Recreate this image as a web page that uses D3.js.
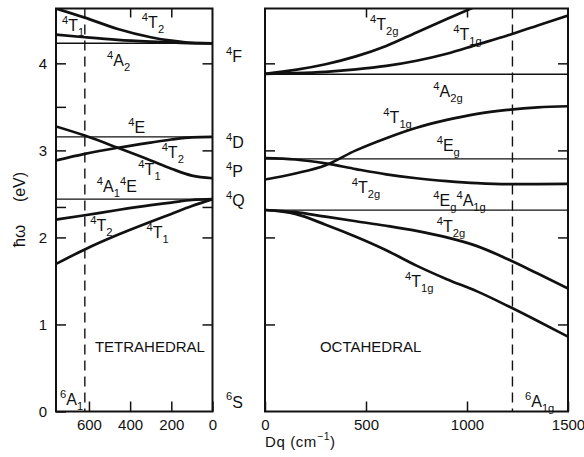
<!DOCTYPE html>
<html>
<head>
<meta charset="utf-8">
<script src="https://cdn.jsdelivr.net/npm/d3@7"></script>
<style>
  html, body { margin: 0; padding: 0; background: #fff; }
  svg { display: block; font-family: "Liberation Sans", Arial, Helvetica, sans-serif; }
</style>
</head>
<body>
<svg id="chart" width="584" height="457"></svg>
<script>
// ---- Tetrahedral site: quartet levels vs crystal field Dq (axis runs 760 -> 0 cm-1)
const tetraDq   = [760, 620, 460, 300, 200, 100, 0];
const tetra4T1F = [4.63, 4.525, 4.395, 4.30, 4.26, 4.235, 4.23];
const tetra4T2F = [4.33, 4.30, 4.27, 4.25, 4.24, 4.232, 4.23];
const tetra4T1P = [3.275, 3.17, 3.03, 2.885, 2.79, 2.71, 2.68];
const tetra4T2D = [2.885, 2.96, 3.03, 3.09, 3.125, 3.15, 3.155];
const tetra4T2G = [2.205, 2.255, 2.315, 2.37, 2.40, 2.43, 2.44];
const tetra4T1G = [1.695, 1.862, 2.03, 2.18, 2.27, 2.36, 2.44];
// field-independent levels: 4A2, 4E(D), 4A1 4E(G)
const tetraFlat = [4.23, 3.155, 2.44];
const tetraMarkDq = 620;

// ---- Octahedral site: quartet levels vs Dq (0 -> 1500 cm-1)
const octaDq     = [0, 150, 300, 450, 600, 750, 900, 1050, 1200, 1350, 1500];
const octa4T2gF  = [3.88, 3.925, 3.99, 4.08, 4.20, 4.355, 4.51, 4.66, null, null, null];
const octa4T1gF  = [3.88, 3.888, 3.903, 3.93, 3.97, 4.03, 4.11, 4.215, 4.32, 4.435, 4.55];
const octa4T1gP  = [2.665, 2.735, 2.83, 3.00, 3.14, 3.26, 3.35, 3.42, 3.465, 3.495, 3.507];
const octa4T2gD  = [2.91, 2.895, 2.85, 2.785, 2.725, 2.68, 2.647, 2.623, 2.612, 2.612, 2.615];
const octa4T2gG  = [2.315, 2.29, 2.238, 2.186, 2.134, 2.075, 2.0, 1.90, 1.752, 1.585, 1.414];
const octa4T1gG  = [2.315, 2.27, 2.146, 2.008, 1.853, 1.676, 1.52, 1.38, 1.215, 1.04, 0.86];
// field-independent levels: 4A2g, 4Eg(D), 4Eg 4A1g(G)
const octaFlat = [3.875, 2.902, 2.313];
const octaMarkDq = 1225;

// ---- Axis ticks
const energyTicks = [0, 1, 2, 3, 4];
const tetraExtraTicks = [3.5, 2.35];
const tetraDqTicks = [600, 400, 200, 0];
const tetraTopTicks = [400, 200];
const octaDqTicks = [0, 500, 1000, 1500];
const octaTopTicks = [500, 1000];

// free-ion terms listed between the panels
const ionTerms = [
  { e: 4.015, parts: [["4", "sup"], ["F", "n"]] },
  { e: 3.025, parts: [["4", "sup"], ["D", "n"]] },
  { e: 2.694, parts: [["4", "sup"], ["P", "n"]] },
  { e: 2.36,  parts: [["4", "sup"], ["Q", "n"]] },
  { e: 0.045, parts: [["6", "sup"], ["S", "n"]] }
];

// state labels, placed in data coordinates of their panel
const tetraLabels = [
  { dq: 731, e: 4.372, parts: [["4", "sup"], ["T", "n"], ["1", "sub"]] },
  { dq: 343, e: 4.406, parts: [["4", "sup"], ["T", "n"], ["2", "sub"]] },
  { dq: 512, e: 3.97,  parts: [["4", "sup"], ["A", "n"], ["2", "sub"]] },
  { dq: 409, e: 3.20,  parts: [["4", "sup"], ["E", "n"]] },
  { dq: 247, e: 2.912, parts: [["4", "sup"], ["T", "n"], ["2", "sub"]] },
  { dq: 360, e: 2.717, parts: [["4", "sup"], ["T", "n"], ["1", "sub"]] },
  { dq: 562, e: 2.522, parts: [["4", "sup"], ["A", "n"], ["1", "sub"], ["4", "sup"], ["E", "n"]] },
  { dq: 594, e: 2.074, parts: [["4", "sup"], ["T", "n"], ["2", "sub"]] },
  { dq: 320, e: 1.993, parts: [["4", "sup"], ["T", "n"], ["1", "sub"]] },
  { dq: 740, e: 0.075, parts: [["6", "sup"], ["A", "n"], ["1", "sub"]] }
];
const octaLabels = [
  { dq: 520,  e: 4.383, parts: [["4", "sup"], ["T", "n"], ["2g", "sub"]] },
  { dq: 932,  e: 4.268, parts: [["4", "sup"], ["T", "n"], ["1g", "sub"]] },
  { dq: 833,  e: 3.613, parts: [["4", "sup"], ["A", "n"], ["2g", "sub"]] },
  { dq: 586,  e: 3.315, parts: [["4", "sup"], ["T", "n"], ["1g", "sub"]] },
  { dq: 850,  e: 2.993, parts: [["4", "sup"], ["E", "n"], ["g", "sub"]] },
  { dq: 429,  e: 2.51,  parts: [["4", "sup"], ["T", "n"], ["2g", "sub"]] },
  { dq: 833,  e: 2.361, parts: [["4", "sup"], ["E", "n"], ["g", "sub"], ["4", "sup"], ["A", "n"], ["1g", "sub"]] },
  { dq: 850,  e: 2.062, parts: [["4", "sup"], ["T", "n"], ["2g", "sub"]] },
  { dq: 693,  e: 1.43,  parts: [["4", "sup"], ["T", "n"], ["1g", "sub"]] },
  { dq: 1287, e: 0.055, parts: [["6", "sup"], ["A", "n"], ["1g", "sub"]] }
];

// ---- Layout
const svg = d3.select("#chart");
const yTop = 8.5, yBot = 411.5;
const y  = d3.scaleLinear().domain([0, 4.63]).range([yBot, yTop]);
const xT = d3.scaleLinear().domain([760, 0]).range([56, 212.5]);
const xO = d3.scaleLinear().domain([0, 1500]).range([265, 568]);

const INK = "#111";

const defs = svg.append("defs");
function clip(id, xs) {
  defs.append("clipPath").attr("id", id).append("rect")
    .attr("x", xs.range()[0]).attr("y", yTop)
    .attr("width", xs.range()[1] - xs.range()[0]).attr("height", yBot - yTop);
}
clip("clipT", xT);
clip("clipO", xO);

// rich label: superscript / normal / subscript runs
function rich(parent, x, yy, parts, size) {
  const t = parent.append("text").attr("x", x).attr("y", yy)
    .attr("font-size", size).attr("fill", INK);
  let cur = 0;
  for (const [s, k] of parts) {
    const off = k === "sup" ? -0.45 * size : k === "sub" ? 0.3 * size : 0;
    t.append("tspan")
      .attr("dy", off - cur)
      .attr("font-size", k === "n" ? size : size * 0.7)
      .text(s);
    cur = off;
  }
  return t;
}

function panel(xs, clipId, dqs, curves, flats, markDq, labels) {
  const g = svg.append("g");
  const plot = g.append("g").attr("clip-path", `url(#${clipId})`);

  // field-independent levels
  plot.selectAll("line.flat").data(flats).join("line")
    .attr("x1", xs.range()[0]).attr("x2", xs.range()[1])
    .attr("y1", d => y(d)).attr("y2", d => y(d))
    .attr("stroke", INK).attr("stroke-width", 1.4);

  // marker for the compound's Dq
  plot.append("line")
    .attr("x1", xs(markDq)).attr("x2", xs(markDq))
    .attr("y1", yTop).attr("y2", yBot)
    .attr("stroke", INK).attr("stroke-width", 1.4)
    .attr("stroke-dasharray", "10,6");

  const line = d3.line()
    .defined(d => d[1] != null)
    .x(d => xs(d[0])).y(d => y(d[1]))
    .curve(d3.curveMonotoneX);

  curves.forEach(vals => {
    const pts = dqs.map((q, i) => [q, vals[i]]);
    plot.append("path").attr("d", line(pts))
      .attr("fill", "none").attr("stroke", INK)
      .attr("stroke-width", 2.7).attr("stroke-linejoin", "round");
  });

  // frame
  g.append("rect")
    .attr("x", xs.range()[0]).attr("y", yTop)
    .attr("width", xs.range()[1] - xs.range()[0]).attr("height", yBot - yTop)
    .attr("fill", "none").attr("stroke", INK).attr("stroke-width", 2);

  labels.forEach(l => rich(g, xs(l.dq), y(l.e), l.parts, 16));
  return g;
}

function styleAxis(sel, size) {
  sel.select(".domain").remove();
  sel.selectAll(".tick line").attr("stroke", INK).attr("stroke-width", 1.5);
  sel.selectAll(".tick text").attr("fill", INK)
    .attr("font-size", size || 14)
    .attr("font-family", "\"Liberation Sans\", Arial, Helvetica, sans-serif");
  sel.attr("font-family", null).attr("font-size", null);
}

// ---- Tetrahedral panel
panel(xT, "clipT", tetraDq,
  [tetra4T1F, tetra4T2F, tetra4T1P, tetra4T2D, tetra4T2G, tetra4T1G],
  tetraFlat, tetraMarkDq, tetraLabels);

svg.append("g").attr("transform", `translate(${xT.range()[0]},0)`)
  .call(d3.axisLeft(y).tickValues(energyTicks).tickSize(-10).tickPadding(9).tickFormat(d3.format("d")))
  .call(styleAxis, 15);
svg.append("g").attr("transform", `translate(${xT.range()[0]},0)`)
  .call(d3.axisLeft(y).tickValues(tetraExtraTicks).tickSize(-10).tickFormat(""))
  .call(styleAxis);
svg.append("g").attr("transform", `translate(${xT.range()[1]},0)`)
  .call(d3.axisRight(y).tickValues([1, 2, 3, 4].concat([2.35])).tickSize(-10).tickFormat(""))
  .call(styleAxis);
svg.append("g").attr("transform", `translate(0,${yBot})`)
  .call(d3.axisBottom(xT).tickValues(tetraDqTicks).tickSize(-10).tickPadding(8).tickFormat(d3.format("d")))
  .call(styleAxis, 15);
svg.append("g").attr("transform", `translate(0,${yTop})`)
  .call(d3.axisTop(xT).tickValues(tetraTopTicks).tickSize(-9).tickFormat(""))
  .call(styleAxis);

// ---- Octahedral panel
panel(xO, "clipO", octaDq,
  [octa4T2gF, octa4T1gF, octa4T1gP, octa4T2gD, octa4T2gG, octa4T1gG],
  octaFlat, octaMarkDq, octaLabels);

svg.append("g").attr("transform", `translate(${xO.range()[0]},0)`)
  .call(d3.axisLeft(y).tickValues([1, 2, 3, 4]).tickSize(-10).tickFormat(""))
  .call(styleAxis);
svg.append("g").attr("transform", `translate(${xO.range()[1]},0)`)
  .call(d3.axisRight(y).tickValues([1, 2, 3, 4]).tickSize(-10).tickFormat(""))
  .call(styleAxis);
svg.append("g").attr("transform", `translate(0,${yBot})`)
  .call(d3.axisBottom(xO).tickValues(octaDqTicks).tickSize(-10).tickPadding(8).tickFormat(d3.format("d")))
  .call(styleAxis, 15);
svg.append("g").attr("transform", `translate(0,${yTop})`)
  .call(d3.axisTop(xO).tickValues(octaTopTicks).tickSize(-9).tickFormat(""))
  .call(styleAxis);

// ---- Site names
svg.append("text").attr("x", xT(571)).attr("y", y(0.684))
  .attr("font-size", 15).attr("fill", INK).text("TETRAHEDRAL");
svg.append("text").attr("x", xO(272)).attr("y", y(0.688))
  .attr("font-size", 15).attr("fill", INK).text("OCTAHEDRAL");

// ---- Free-ion terms between the panels
ionTerms.forEach(t => rich(svg, xO.range()[0] - 39, y(t.e), t.parts, 16));

// ---- Axis titles
rich(svg, xO.range()[0], 447, [["Dq (cm", "n"], ["−1", "sup"], [")", "n"]], 15)
  .attr("letter-spacing", 0.6);

const yTitle = svg.append("g").attr("transform", "translate(19,0) rotate(-90)");
yTitle.append("text").attr("x", -236).attr("y", 0)
  .attr("text-anchor", "middle").attr("dominant-baseline", "central")
  .attr("font-size", 17).attr("fill", INK).text("ħω");
yTitle.append("text").attr("x", -187).attr("y", 0)
  .attr("text-anchor", "middle").attr("dominant-baseline", "central")
  .attr("font-size", 16).attr("fill", INK).text("(eV)");
</script>
</body>
</html>
